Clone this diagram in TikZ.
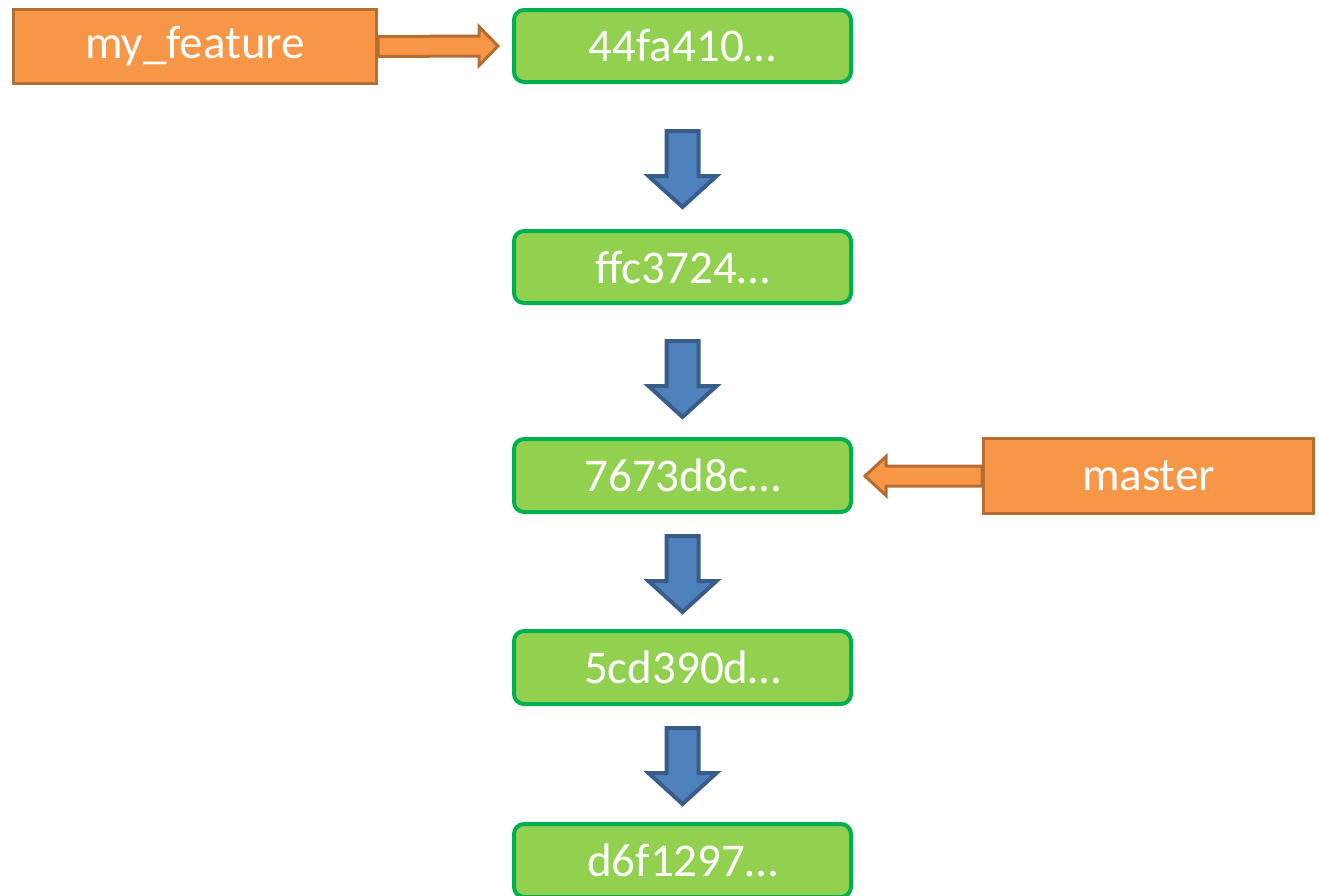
\documentclass[tikz,border=0pt]{standalone}
\usepackage{fontspec}
\setmainfont{Carlito}
\usetikzlibrary{calc}
\definecolor{orfill}{HTML}{F79646}
\definecolor{ordraw}{HTML}{B66D31}
\definecolor{grfill}{HTML}{92D050}
\definecolor{grdraw}{HTML}{00B050}
\definecolor{blfill}{HTML}{4F81BD}
\definecolor{bldraw}{HTML}{385D8A}
\begin{document}
\begin{tikzpicture}[x=1pt,y=-1pt,
  commit/.style={draw=grdraw,fill=grfill,line width=4pt,rounded corners=10pt,
    minimum width=337pt,minimum height=72pt,inner sep=0pt,text=white,
    font=\fontsize{47}{50}\selectfont},
  branch/.style={draw=ordraw,fill=orfill,line width=3pt,
    minimum height=74pt,inner sep=0pt,text=white,
    font=\fontsize{47}{50}\selectfont},
  bluearrow/.style={draw=bldraw,fill=blfill,line width=4pt,line join=miter},
  orarrow/.style={draw=ordraw,fill=orfill,line width=3pt,line join=miter}]
\useasboundingbox (0,0) rectangle (1319,895);
\node[commit] (c1) at (682.5,46) {\raisebox{-2pt}{44fa410…}};
\node[commit] (c2) at (682.5,267) {\raisebox{-2pt}{ffc3724…}};
\node[commit,minimum height=73pt] (c3) at (682.5,475.5) {\raisebox{-2pt}{7673d8c…}};
\node[commit,minimum height=73pt] (c4) at (682.5,667.5) {\raisebox{-2pt}{5cd390d…}};
\node[commit,minimum height=73pt] (c5) at (682.5,860.5) {\raisebox{-2pt}{d6f1297…}};
\node[branch,minimum width=363pt] (mf) at (195,46.5) {\raisebox{-2pt}{my\_feature}};
\node[branch,minimum width=330pt,minimum height=75pt] (ms) at (1148.5,476) {\raisebox{-2pt}{master}};
% block arrows between commits
\foreach \a/\d in {c1/47,c2/36,c3/22,c4/22}{
  \coordinate (t) at ($(\a.south)+(0,\d)$);
  \draw[bluearrow] ($(t)+(-16,0)$) -- ($(t)+(16,0)$) -- ($(t)+(16,45)$)
    -- ($(t)+(34,45)$) -- ($(t)+(0,76)$) -- ($(t)+(-34,45)$)
    -- ($(t)+(-16,45)$) -- cycle;
}
% my_feature -> c1
\coordinate (s1) at (mf.east);
\coordinate (e1) at ($(c1.west)+(-14,0)$);
\draw[orarrow] ($(s1)+(0,-10)$) -- ($(e1)+(-19,-10)$) -- ($(e1)+(-19,-19.5)$)
  -- (e1) -- ($(e1)+(-19,19.5)$) -- ($(e1)+(-19,10)$) -- ($(s1)+(0,10)$) -- cycle;
% master -> c3
\coordinate (s2) at (ms.west);
\coordinate (e2) at ($(c3.east)+(12,0.5)$);
\draw[orarrow] ($(s2)+(0,-10)$) -- ($(e2)+(21,-10)$) -- ($(e2)+(21,-19.5)$)
  -- (e2) -- ($(e2)+(21,19.5)$) -- ($(e2)+(21,10)$) -- ($(s2)+(0,10)$) -- cycle;
\end{tikzpicture}
\end{document}
